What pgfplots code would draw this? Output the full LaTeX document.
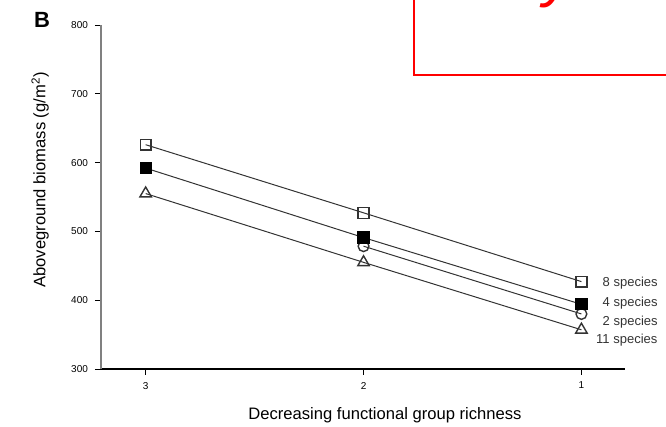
\documentclass[border=0pt]{standalone}
\usepackage{pgfplots}
\pgfplotsset{compat=1.18}
\usepackage{fontspec}
\setmainfont{Liberation Sans}
\begin{document}
\begin{tikzpicture}
\begin{axis}[
  scale only axis, width=262pt, height=172pt,
  axis lines=left, axis line style={-},
  x axis line style={black, line width=0.9pt},
  y axis line style={gray, line width=0.9pt},
  xmin=-0.205, xmax=2.2, ymin=300, ymax=800,
  xtick={0,1,2}, xticklabels={3,2,1},
  ytick={300,400,...,800},
  tick style={black, line width=0.4pt},
  tick align=outside, major tick length=3pt,
  tick label style={font=\fontsize{5}{6}\selectfont},
  /pgf/number format/assume math mode=true,
  xlabel={Decreasing functional group richness},
  ylabel={Aboveground biomass (g/m\textsuperscript{2})},
  label style={font=\fontsize{8.3}{10}\selectfont},
  x label style={at={(axis description cs:0.542,-0.134)}, anchor=center},
  y label style={at={(axis description cs:-0.116,0.55)}, anchor=center},
  clip=false,
]
\coordinate (bl) at (rel axis cs:0,0);
\addplot[black!80, line width=0.5pt, mark=o, mark size=2.7pt, mark options={solid, fill=white, line width=0.7pt}] coordinates {(1,478.5)(2,380)};
\addplot[black!80, line width=0.5pt, mark=triangle, mark size=3.3pt, mark options={solid, fill=white, line width=0.7pt}] coordinates {(0,555)(1,455)(2,357)};
\addplot[black!80, line width=0.5pt, mark=square*, mark size=2.7pt, mark options={solid, fill=black, draw=black, line width=0.7pt}] coordinates {(0,592)(1,491)(2,394)};
\addplot[black!80, line width=0.5pt, mark=square, mark size=2.7pt, mark options={solid, fill=white, line width=0.7pt}] coordinates {(0,626)(1,527)(2,427)};
\node[anchor=west, inner sep=0pt, font=\fontsize{6.5}{7}\selectfont, text=black!80] at (axis cs:2.096,425) {8 species};
\node[anchor=west, inner sep=0pt, font=\fontsize{6.5}{7}\selectfont, text=black!80] at (axis cs:2.096,396) {4 species};
\node[anchor=west, inner sep=0pt, font=\fontsize{6.5}{7}\selectfont, text=black!80] at (axis cs:2.096,368) {2 species};
\node[anchor=west, inner sep=0pt, font=\fontsize{6.5}{7}\selectfont, text=black!80] at (axis cs:2.066,342) {11 species};
\end{axis}
\draw[red, line width=1.2pt] ([shift={(156.5pt,147pt)}]bl) rectangle ([shift={(300pt,200pt)}]bl);
\node[font=\bfseries\fontsize{11}{12}\selectfont] at ([shift={(-29.5pt,174.5pt)}]bl) {B};
\node[anchor=base, inner sep=0pt, text=red, font=\itshape\fontsize{30}{32}\selectfont] at ([shift={(229pt,186.5pt)}]bl) {y};
\pgfresetboundingbox
\path ([shift={(-50.5pt,-29pt)}]bl) rectangle ([shift={(282.5pt,184.5pt)}]bl);
\end{tikzpicture}
\end{document}
